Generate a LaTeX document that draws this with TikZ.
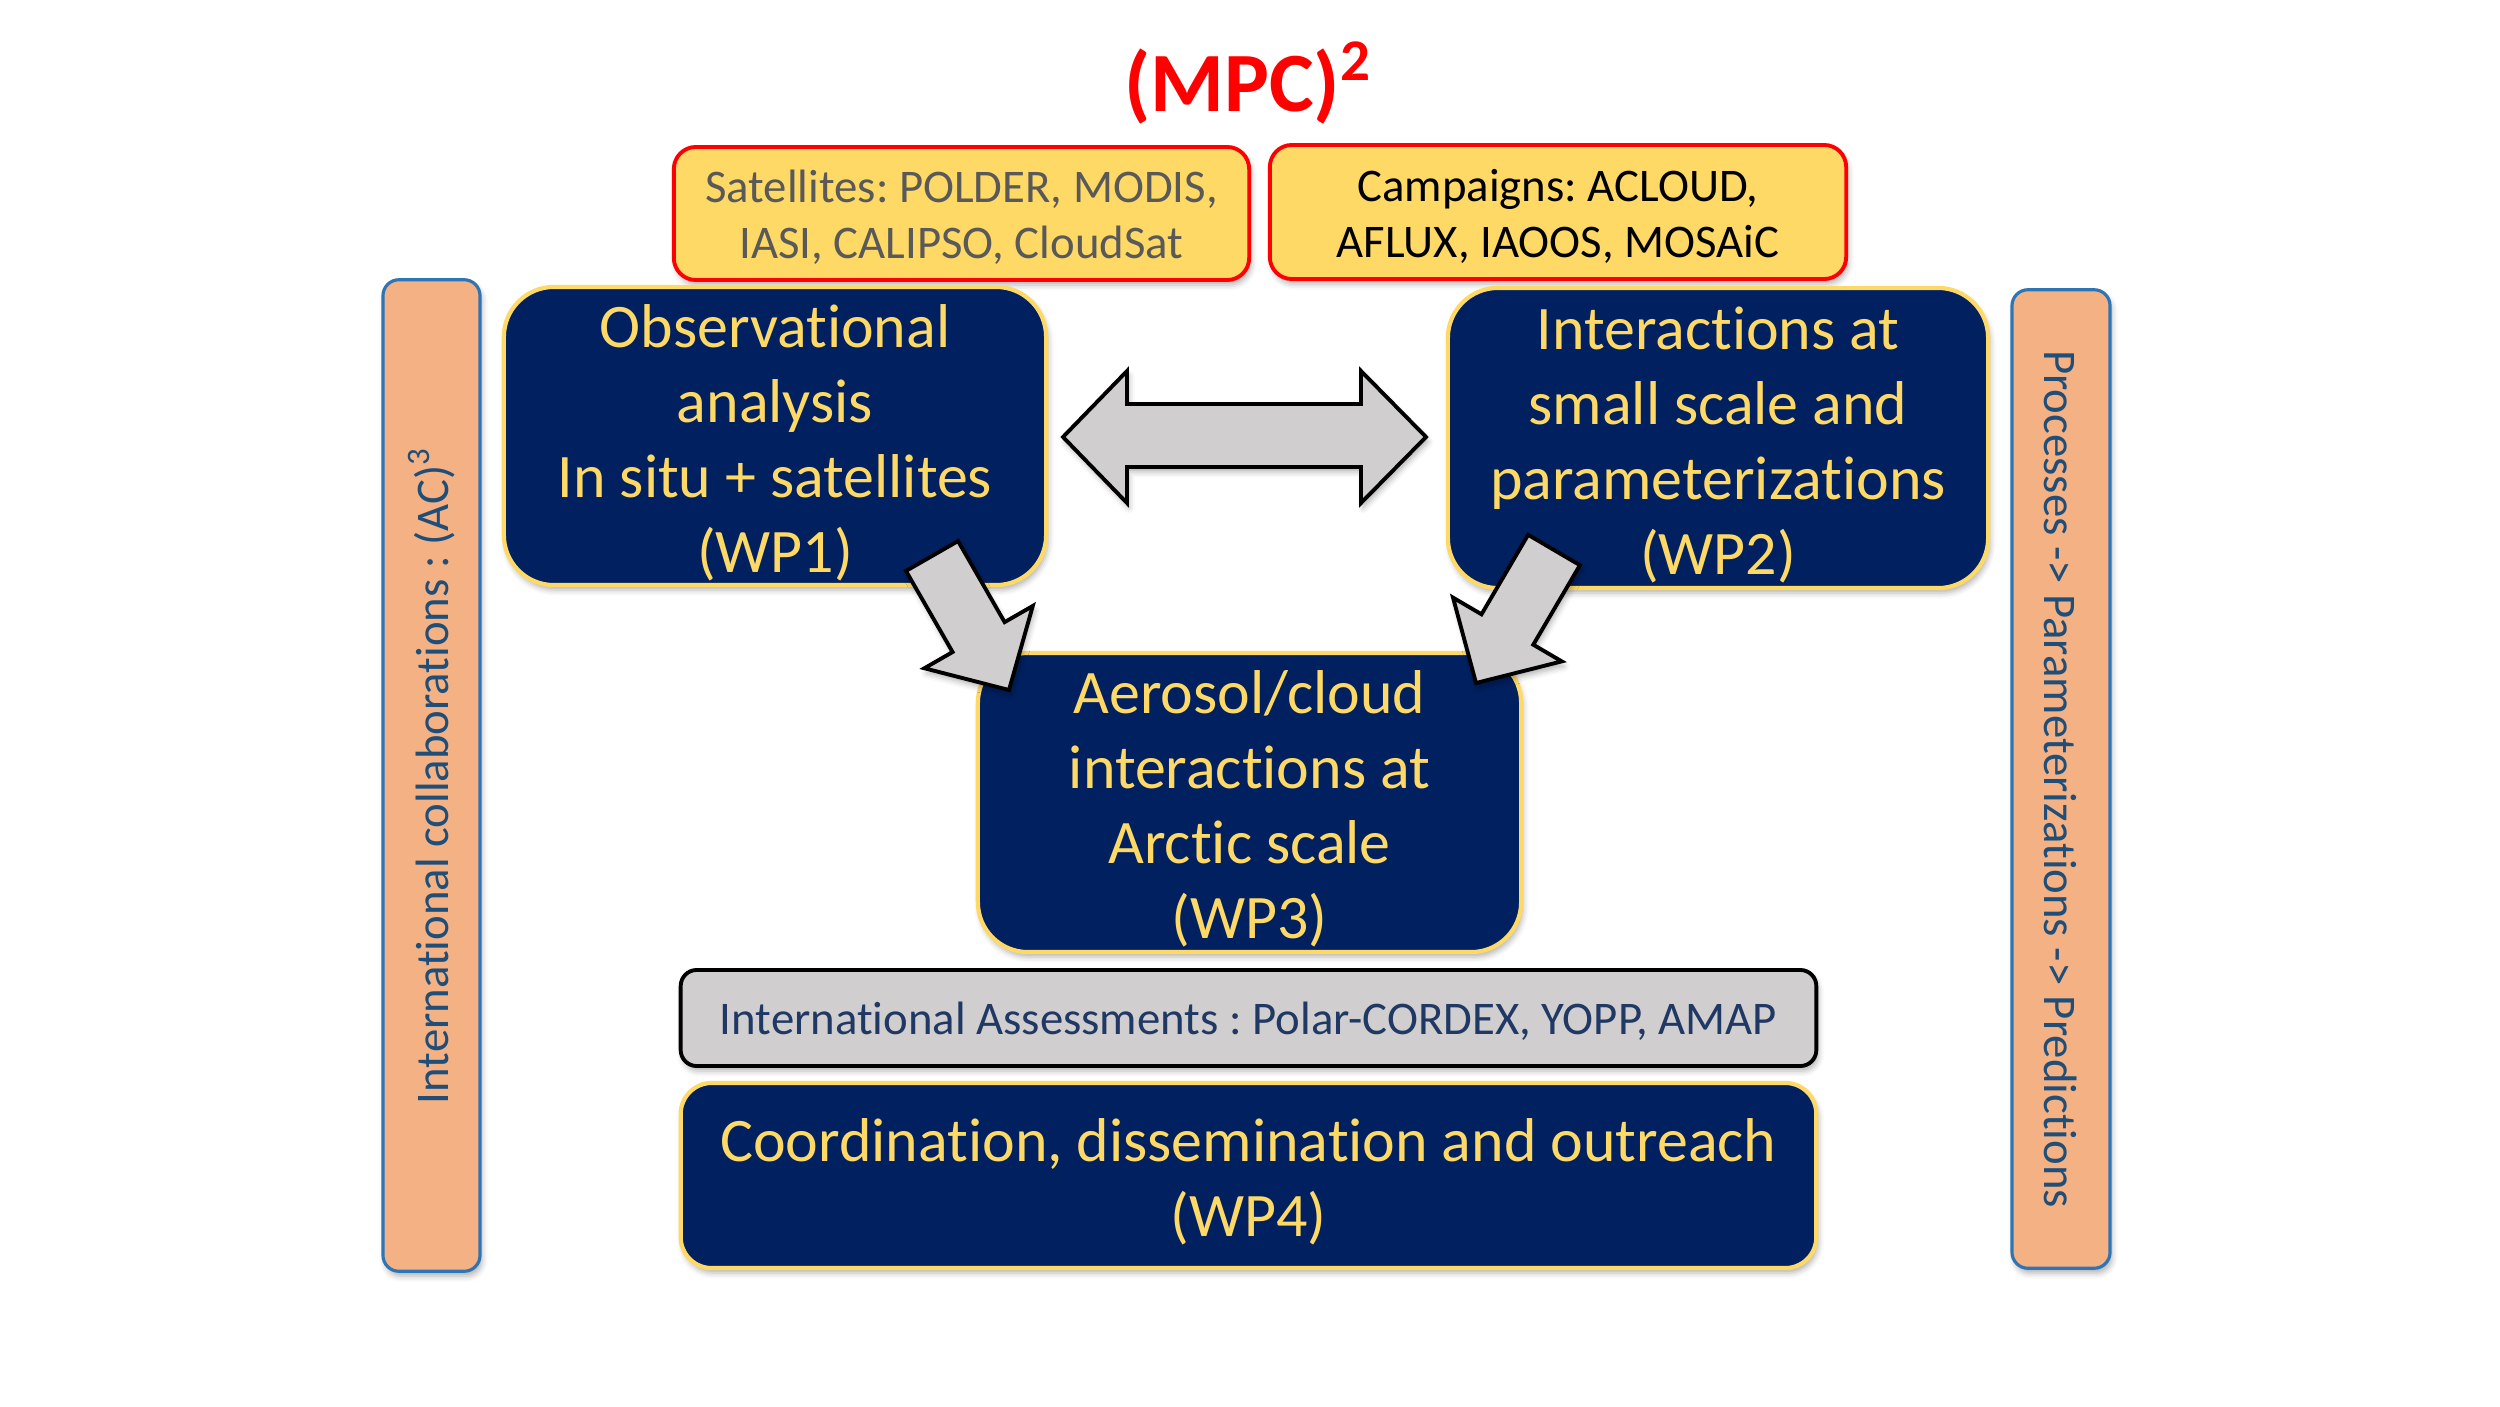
\documentclass[tikz,border=0pt]{standalone}
\usepackage{fontspec}
\setmainfont{Carlito}[Ligatures=NoCommon]
\usetikzlibrary{calc,shadows.blur}
\definecolor{navy}{HTML}{002060}
\definecolor{gold}{HTML}{FFD966}
\definecolor{peach}{HTML}{F4B183}
\definecolor{barblue}{HTML}{2E75B6}
\definecolor{bartext}{HTML}{1F4E79}
\definecolor{lgrey}{HTML}{D0CECE}
\definecolor{greytext}{HTML}{595959}
\definecolor{asstext}{HTML}{203864}
\newcommand{\fsz}[2]{\fontsize{#1}{#2}\selectfont}
\frenchspacing
\begin{document}
\begin{tikzpicture}[x=0.01cm,y=-0.01cm,
  sh/.style={blur shadow={shadow xshift=0.6pt,shadow yshift=-1.4pt,shadow blur radius=1.6pt,shadow opacity=30}},
  wpbox/.style={draw=gold, line width=1.2pt, fill=navy, inner sep=0pt, sh},
  wptext/.style={text=gold, align=center, inner sep=0pt, font=\fsz{17.6}{21.3}},
  srcbox/.style={draw=red, line width=1.1pt, fill=gold, inner sep=0pt, rounded corners=0.22cm, sh},
  srctext/.style={align=center, inner sep=0pt, font=\fsz{13.3}{15.9}},
  barbox/.style={draw=barblue, line width=0.9pt, fill=peach, rounded corners=0.16cm, inner sep=0pt, sh},
  bartxt/.style={text=bartext, font=\fsz{13.3}{15}, inner sep=0pt},
  blockarrow/.style={draw=black, line width=1.1pt, fill=lgrey, line join=miter, sh}]
\useasboundingbox (0,0) rectangle (2500,1406);

% title
\node[text=red, font=\fsz{24}{29}\bfseries, inner sep=0pt] (title) at (1248,83) {(MPC)\textsuperscript{2}};

% source boxes
\node[srcbox, minimum width=5.75cm, minimum height=1.33cm] (sat) at (961.5,213.5) {};
\node[srctext, text=greytext] (sat-t) at ($(sat.center)+(0,4)$) {Satellites: POLDER, MODIS,\\IASI, CALIPSO, CloudSat};
\node[srcbox, minimum width=5.76cm, minimum height=1.34cm] (camp) at (1558,212) {};
\node[srctext, text=black] (camp-t) at ($(camp.center)+(0,4)$) {Campaigns: ACLOUD,\\AFLUX, IAOOS, MOSAiC};

% side bars
\node[barbox, minimum width=0.97cm, minimum height=9.91cm] (lbar) at (431.5,775.5) {};
\node[bartxt, rotate=90] (ltxt) at (lbar.center) {International collaborations : (AC)\textsuperscript{3}};
\node[barbox, minimum width=0.98cm, minimum height=9.78cm] (rbar) at (2061,779) {};
\node[bartxt, rotate=-90] (rtxt) at (rbar.center) {Processes -> Parameterizations -> Predictions};

% work packages
\node[wpbox, rounded corners=0.5cm, minimum width=5.42cm, minimum height=2.98cm] (wp1) at (775,436) {};
\node[wptext] (wp1-t) at ($(wp1.center)+(0,7)$) {Observational\\analysis\\In situ + satellites\\(WP1)};
\node[wpbox, rounded corners=0.5cm, minimum width=5.40cm, minimum height=3.00cm] (wp2) at (1718,438) {};
\node[wptext] (wp2-t) at ($(wp2.center)+(0,7)$) {Interactions at\\small scale and\\parameterizations\\(WP2)};
\node[wpbox, rounded corners=0.5cm, minimum width=5.43cm, minimum height=2.99cm] (wp3) at (1249.5,802.5) {};
\node[wptext] (wp3-t) at ($(wp3.center)+(0,6)$) {Aerosol/cloud\\interactions at\\Arctic scale\\(WP3)};

% assessments
\node[draw=black, line width=1.1pt, fill=lgrey, rounded corners=0.16cm, inner sep=0pt,
  minimum width=11.35cm, minimum height=0.96cm, sh] (assess) at (1248.5,1018) {};
\node[text=asstext, font=\fsz{13.3}{15}, inner sep=0pt] (assess-t) at ($(assess.center)+(0,3)$)
  {International Assessments : Polar-CORDEX, YOPP, AMAP};
\node[wpbox, rounded corners=0.31cm, minimum width=11.35cm, minimum height=1.85cm] (wp4) at (1248.5,1175.5) {};
\node[wptext] (wp4-t) at ($(wp4.center)+(0,6)$) {Coordination, dissemination and outreach\\(WP4)};

% double arrow between WP1 and WP2
\coordinate (dl) at (1063,437);
\coordinate (dr) at (1426,437);
\draw[blockarrow] (dl) -- ($(dl)+(64,-66)$) -- ($(dl)+(64,-33)$) -- ($(dr)+(-65,-33)$) -- ($(dr)+(-65,-66)$)
  -- (dr) -- ($(dr)+(-65,66)$) -- ($(dr)+(-65,30)$) -- ($(dl)+(64,30)$) -- ($(dl)+(64,66)$) -- cycle;

% WP1 -> WP3
\coordinate (t1) at (932,556);
\coordinate (p1) at (1009,690);
\coordinate (b1) at ($(p1)!0.61cm!(t1)$);
\draw[blockarrow] ($(t1)!0.3cm!90:(p1)$) -- ($(b1)!0.3cm!90:(p1)$) -- ($(b1)!0.625cm!90:(p1)$) -- (p1)
  -- ($(b1)!0.625cm!-90:(p1)$) -- ($(b1)!0.3cm!-90:(p1)$) -- ($(t1)!0.3cm!-90:(p1)$) -- cycle;

% WP2 -> WP3
\coordinate (t2) at (1554,550);
\coordinate (p2) at (1476,683);
\coordinate (b2) at ($(p2)!0.62cm!(t2)$);
\draw[blockarrow] ($(t2)!0.3cm!90:(p2)$) -- ($(b2)!0.3cm!90:(p2)$) -- ($(b2)!0.63cm!90:(p2)$) -- (p2)
  -- ($(b2)!0.63cm!-90:(p2)$) -- ($(b2)!0.3cm!-90:(p2)$) -- ($(t2)!0.3cm!-90:(p2)$) -- cycle;
\end{tikzpicture}
\end{document}
